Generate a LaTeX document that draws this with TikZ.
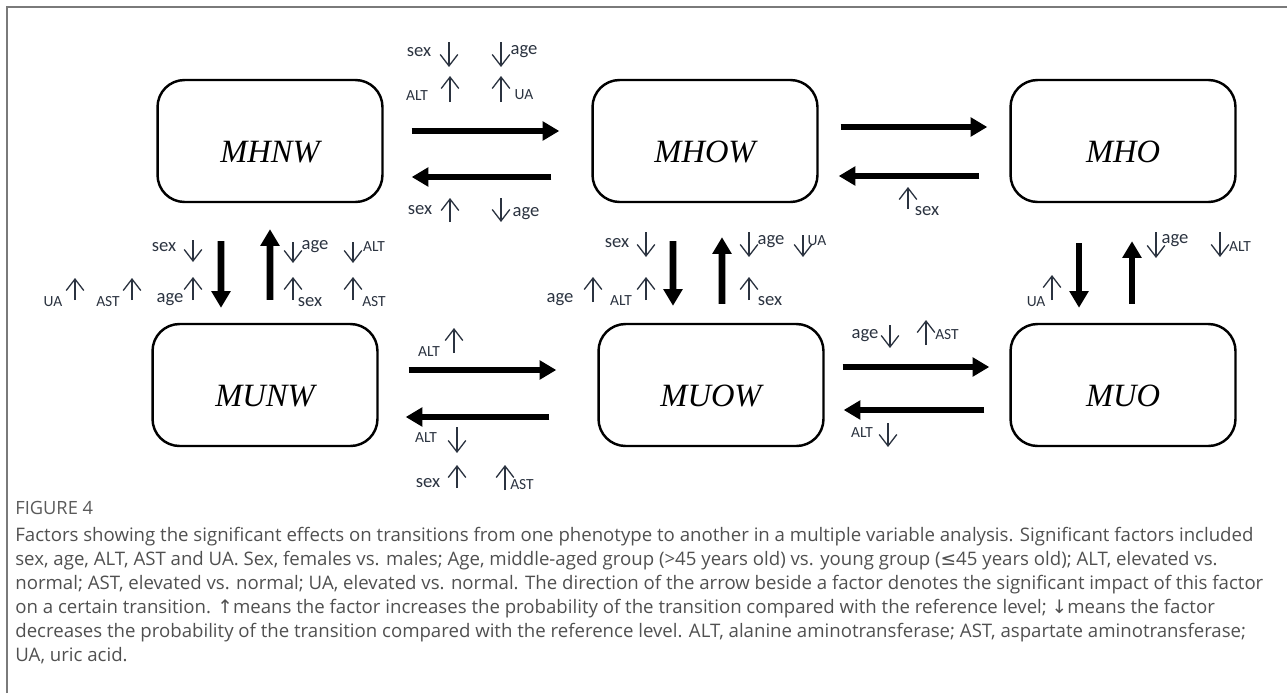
\documentclass[tikz,border=0pt]{standalone}
\usepackage{fontspec}
\setmainfont{Liberation Serif}
\newfontfamily\labfont{Carlito}
\newfontfamily\capfont{Open Sans}
\newfontfamily\symfont{DejaVu Sans}
\usetikzlibrary{arrows.meta}
\definecolor{framegray}{HTML}{7A7A7A}
\definecolor{factext}{HTML}{2B3340}
\definecolor{captext}{HTML}{505050}
\definecolor{figtext}{HTML}{5A5A5A}

\begin{document}
\begin{tikzpicture}[x=0.02cm,y=-0.02cm,
  state/.style={draw,line width=1.4pt,rounded corners=0.54cm,
                minimum width=4.5cm,minimum height=2.44cm,inner sep=0pt,
                font=\fontsize{18.5}{20}\selectfont\itshape,
                text height=0.86cm,text depth=0pt},
  bigarr/.style={-{Triangle[length=9.5pt,width=10.5pt]},line width=3.8pt},
  fac/.style={-{Straight Barb[length=6.5pt,width=10pt]},line width=0.75pt,factext},
  fbig/.style={font=\labfont\fontsize{10.6}{12}\selectfont,text=factext,inner sep=0pt},
  fsmall/.style={font=\labfont\fontsize{8.8}{10}\selectfont,text=factext,inner sep=0pt},
  capbox/.style={font=\capfont\fontsize{10.6}{13.66}\selectfont,text=captext,
                 align=left,inner sep=0pt}
]
\useasboundingbox (0,0) rectangle (1287,693);

% figure frame (top and left only)
\draw[framegray,line width=0.6pt] (7,693) -- (7,7) -- (1287,7);

% phenotype boxes
\node[state] (MHNW) at (270,141) {MHNW};
\node[state] (MHOW) at (705,141) {MHOW};
\node[state] (MHO)  at (1123,141) {MHO};
\node[state] (MUNW) at (265,385) {MUNW};
\node[state] (MUOW) at (711,385) {MUOW};
\node[state] (MUO)  at (1123,385) {MUO};

% transitions, upper row
\draw[bigarr,shorten <=0.56cm,shorten >=0.64cm] ([yshift=0.2cm]MHNW.east) -- ([yshift=0.2cm]MHOW.west);
\draw[bigarr,shorten <=0.8cm,shorten >=0.56cm] ([yshift=-0.72cm]MHOW.west) -- ([yshift=-0.72cm]MHNW.east);
\draw[bigarr,shorten <=0.44cm,shorten >=0.44cm] ([yshift=0.28cm]MHOW.east) -- ([yshift=0.28cm]MHO.west);
\draw[bigarr,shorten <=0.6cm,shorten >=0.4cm] ([yshift=-0.7cm]MHO.west) -- ([yshift=-0.7cm]MHOW.east);
% transitions, lower row
\draw[bigarr,shorten <=0.6cm,shorten >=0.82cm] ([yshift=0.3cm]MUNW.east) -- ([yshift=0.3cm]MUOW.west);
\draw[bigarr,shorten <=0.96cm,shorten >=0.54cm] ([yshift=-0.64cm]MUOW.west) -- ([yshift=-0.64cm]MUNW.east);
\draw[bigarr,shorten <=0.36cm,shorten >=0.4cm] ([yshift=0.36cm]MUOW.east) -- ([yshift=0.36cm]MUO.west);
\draw[bigarr,shorten <=0.5cm,shorten >=0.38cm] ([yshift=-0.5cm]MUO.west) -- ([yshift=-0.5cm]MUOW.east);
% transitions, vertical
\draw[bigarr,shorten <=0.76cm,shorten >=0.3cm] ([xshift=-0.98cm]MHNW.south) -- ([xshift=-0.88cm]MUNW.north);
\draw[bigarr,shorten <=0.46cm,shorten >=0.52cm] ([xshift=0.1cm]MUNW.north) -- (MHNW.south);
\draw[bigarr,shorten <=0.76cm,shorten >=0.34cm] ([xshift=-0.64cm]MHOW.south) -- ([xshift=-0.76cm]MUOW.north);
\draw[bigarr,shorten <=0.38cm,shorten >=0.68cm] ([xshift=0.22cm]MUOW.north) -- ([xshift=0.34cm]MHOW.south);
\draw[bigarr,shorten <=0.8cm,shorten >=0.3cm] ([xshift=-0.88cm]MHO.south) -- ([xshift=-0.88cm]MUO.north);
\draw[bigarr,shorten <=0.38cm,shorten >=0.76cm] ([xshift=0.18cm]MUO.north) -- ([xshift=0.18cm]MHO.south);

% factors MHNW -> MHOW
\node[fbig] (f1sex) at (419,52) {sex};
\draw[fac] (449,42) -- (449,67);
\draw[fac] (501,42) -- (501,67);
\node[fbig] (f1age) at (524,52) {age};
\node[fsmall] (f1alt) at (417,96) {ALT};
\draw[fac] (450,102) -- (450,76);
\draw[fac] (501,102) -- (501,76);
\node[fsmall] (f1ua) at (524,95) {UA};
% factors MHOW -> MHNW
\node[fbig] (f2sex) at (420,210) {sex};
\draw[fac] (450,222) -- (450,198);
\draw[fac] (501,198) -- (501,222);
\node[fbig] (f2age) at (526,214) {age};
% factors MHO -> MHOW
\draw[fac] (908,209) -- (908,187);
\node[fbig] (f3sex) at (927,211) {sex};

% factors MHNW <-> MUNW
\node[fbig] (f4sex) at (164,247) {sex};
\draw[fac] (193,240) -- (193,262);
\node[fbig] (f4age) at (170,300) {age};
\draw[fac] (193,300) -- (193,277);
\node[fsmall] (f4ua) at (53,302) {UA};
\draw[fac] (75,300) -- (75,278);
\node[fsmall] (f4ast) at (108,302) {AST};
\draw[fac] (132,300) -- (132,278);
\draw[fac] (293,242) -- (293,263);
\node[fbig] (f5age) at (315,247) {age};
\draw[fac] (293,300) -- (293,277);
\node[fbig] (f5sex) at (310,302) {sex};
\draw[fac] (353,242) -- (353,263);
\node[fsmall] (f5alt) at (374,247) {ALT};
\draw[fac] (353,300) -- (353,277);
\node[fsmall] (f5ast) at (374,302) {AST};

% factors MHOW <-> MUOW
\node[fbig] (f6sex) at (617,243) {sex};
\draw[fac] (646,232) -- (646,257);
\node[fbig] (f6age) at (560,300) {age};
\draw[fac] (593,302) -- (593,277);
\node[fsmall] (f6alt) at (621,301) {ALT};
\draw[fac] (646,300) -- (646,277);
\draw[fac] (749,232) -- (749,257);
\node[fbig] (f7age) at (771,242) {age};
\draw[fac] (803,235) -- (803,257);
\node[fsmall] (f7ua) at (817,241) {UA};
\draw[fac] (749,300) -- (749,277);
\node[fbig] (f7sex) at (770,301) {sex};

% factors MHO <-> MUO
\node[fsmall] (f8ua) at (1036,302) {UA};
\draw[fac] (1052,300) -- (1052,275);
\draw[fac] (1156,232) -- (1156,258);
\node[fbig] (f9age) at (1175,241) {age};
\draw[fac] (1220,232) -- (1220,257);
\node[fsmall] (f9alt) at (1240,247) {ALT};

% factors MUNW <-> MUOW
\node[fsmall] (f10alt) at (429,352) {ALT};
\draw[fac] (454,353) -- (454,328);
\node[fsmall] (f11alt) at (426,438) {ALT};
\draw[fac] (457,427) -- (457,453);
\node[fbig] (f11sex) at (428,483) {sex};
\draw[fac] (457,488) -- (457,465);
\draw[fac] (505,490) -- (505,465);
\node[fsmall] (f11ast) at (522,485) {AST};

% factors MUOW <-> MUO
\node[fbig] (f12age) at (865,336) {age};
\draw[fac] (890,325) -- (890,348);
\draw[fac] (926,345) -- (926,320);
\node[fsmall] (f12ast) at (947,335) {AST};
\node[fsmall] (f13alt) at (862,433) {ALT};
\draw[fac] (888,423) -- (888,447);

% caption
\node[anchor=west,inner sep=0pt,text=figtext,font=\capfont\fontsize{10.4}{12}\selectfont] (fig) at (15,508) {FIGURE 4};
\node[capbox,anchor=north west] (cap) at (15,527) {%
Factors showing the significant effects on transitions from one phenotype to another in a multiple variable analysis. Significant factors included\\
sex, age, ALT, AST and UA. Sex, females vs. males; Age, middle-aged group (>45 years old) vs. young group ({\symfont ≤}45 years old); ALT, elevated vs.\\
normal; AST, elevated vs. normal; UA, elevated vs. normal. The direction of the arrow beside a factor denotes the significant impact of this factor\\
on a certain transition. {\symfont ↑}means the factor increases the probability of the transition compared with the reference level; {\symfont ↓}means the factor\\
decreases the probability of the transition compared with the reference level. ALT, alanine aminotransferase; AST, aspartate aminotransferase;\\
UA, uric acid.};
\end{tikzpicture}
\end{document}
